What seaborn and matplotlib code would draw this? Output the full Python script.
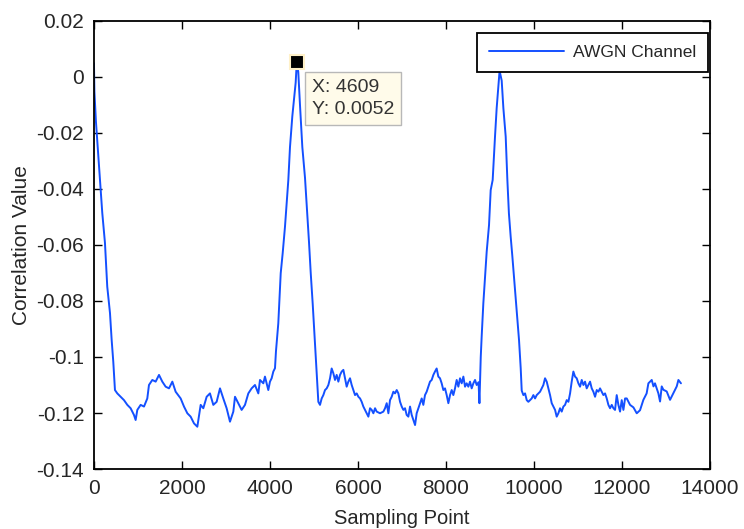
import numpy as np
import pandas as pd
import matplotlib
matplotlib.use('Agg')
import matplotlib.pyplot as plt
import seaborn as sns
from matplotlib.ticker import FuncFormatter, MultipleLocator

# Values, segment by segment
peak1_x = [0, 10, 45, 100, 136, 189, 250, 302, 364, 402, 439, 477]
peak1_y = [0.0049, -0.0052, -0.0160, -0.0285, -0.0370, -0.0486, -0.0593, -0.0749, -0.0843, -0.0939, -0.1017, -0.1118]

base1_x = [530, 606, 682, 758, 833, 909, 947, 985, 1061, 1137, 1212, 1250, 1326, 1402, 1478, 1553,
           1629, 1705, 1781, 1856, 1970, 2046, 2122, 2197, 2273, 2349, 2425, 2485, 2561, 2636, 2712,
           2788, 2864, 2939, 3015, 3091, 3167, 3205, 3280, 3356, 3432, 3508, 3583, 3659, 3735, 3773,
           3849, 3886, 3962, 4000, 4038, 4076]
base1_y = [-0.1130, -0.1142, -0.1154, -0.1171, -0.1183, -0.1207, -0.1225, -0.1189, -0.1171, -0.1177,
           -0.1148, -0.1100, -0.1082, -0.1088, -0.1064, -0.1088, -0.1106, -0.1112, -0.1088, -0.1124,
           -0.1148, -0.1177, -0.1201, -0.1213, -0.1237, -0.1249, -0.1171, -0.1183, -0.1142, -0.1130,
           -0.1171, -0.1160, -0.1112, -0.1148, -0.1183, -0.1231, -0.1195, -0.1142, -0.1165, -0.1189,
           -0.1171, -0.1130, -0.1112, -0.1100, -0.1130, -0.1082, -0.1094, -0.1070, -0.1118, -0.1088,
           -0.1076, -0.1052]

peak2_x = [4114, 4136, 4189, 4244, 4289, 4341, 4380, 4417, 4455, 4508, 4546, 4584, 4609, 4643, 4682,
           4735, 4796, 4835, 4887, 4926, 4971, 5008, 5040, 5062, 5099]
peak2_y = [-0.1040, -0.0980, -0.0880, -0.0701, -0.0629, -0.0535, -0.0450, -0.0368, -0.0250, -0.0140,
           -0.0080, -0.0020, 0.0052, 0.0018, -0.0100, -0.0250, -0.0360, -0.0460, -0.0590, -0.0700,
           -0.0810, -0.0910, -0.0990, -0.1050, -0.1160]

base2_x = [5137, 5175, 5213, 5251, 5289, 5327, 5365, 5402, 5440, 5478, 5516, 5554, 5592, 5630, 5668,
           5706, 5743, 5781, 5819, 5857, 5895, 5933, 5971, 6009, 6047, 6084, 6122, 6160, 6198, 6236,
           6274, 6312, 6350, 6388, 6425, 6501, 6577, 6615, 6653, 6691, 6728, 6766, 6804, 6842, 6880,
           6918, 6956, 6994, 7032, 7069, 7107, 7145, 7183, 7221, 7259, 7297, 7334, 7372, 7410, 7448,
           7485, 7523, 7561, 7599, 7637, 7675, 7713, 7750, 7788, 7826, 7864, 7902, 7940, 7978, 8016,
           8054, 8092, 8130, 8167, 8205, 8243, 8281, 8319, 8357, 8395, 8433, 8470, 8508, 8546, 8584,
           8622, 8660, 8698, 8740, 8760, 8790]
base2_y = [-0.1171, -0.1148, -0.1136, -0.1118, -0.1112, -0.1100, -0.1076, -0.1041, -0.1058, -0.1082,
           -0.1064, -0.1088, -0.1064, -0.1052, -0.1046, -0.1076, -0.1106, -0.1088, -0.1076, -0.1100,
           -0.1118, -0.1136, -0.1130, -0.1142, -0.1148, -0.1160, -0.1177, -0.1189, -0.1201, -0.1213,
           -0.1183, -0.1189, -0.1201, -0.1183, -0.1195, -0.1201, -0.1195, -0.1183, -0.1165, -0.1201,
           -0.1154, -0.1142, -0.1124, -0.1130, -0.1118, -0.1130, -0.1160, -0.1177, -0.1189, -0.1183,
           -0.1207, -0.1213, -0.1177, -0.1207, -0.1225, -0.1243, -0.1201, -0.1183, -0.1165, -0.1148,
           -0.1171, -0.1136, -0.1124, -0.1106, -0.1088, -0.1082, -0.1064, -0.1052, -0.1041, -0.1070,
           -0.1076, -0.1094, -0.1118, -0.1112, -0.1136, -0.1165, -0.1136, -0.1118, -0.1136, -0.1112,
           -0.1082, -0.1106, -0.1076, -0.1094, -0.1070, -0.1106, -0.1094, -0.1106, -0.1088, -0.1112,
           -0.1094, -0.1082, -0.1100, -0.1090, -0.1165, -0.1000]

peak3_x = [8811, 8849, 8887, 8925, 8978, 9016, 9061, 9114, 9152, 9200, 9218, 9266, 9304, 9357, 9395,
           9430, 9470, 9508, 9554, 9607, 9660, 9698, 9721]
peak3_y = [-0.0927, -0.0808, -0.0713, -0.0624, -0.0529, -0.0404, -0.0368, -0.0213, -0.0111, -0.0013,
           0.0022, -0.0013, -0.0111, -0.0213, -0.0368, -0.0487, -0.0570, -0.0640, -0.0730, -0.0830,
           -0.0940, -0.1040, -0.1120]

base3_x = [9759, 9797, 9835, 9872, 9910, 9948, 9986, 10024, 10062, 10100, 10138, 10176, 10213, 10251,
           10289, 10327, 10365, 10403, 10441, 10479, 10516, 10554, 10592, 10630, 10668, 10706, 10744,
           10782, 10820, 10857, 10895, 10933, 10971, 11009, 11047, 11085, 11123, 11160, 11198, 11236,
           11274, 11312, 11350, 11388, 11426, 11464, 11501, 11539, 11577, 11615, 11653, 11691, 11729,
           11767, 11805, 11842, 11880, 11918, 11956, 11994, 12032, 12070, 12108, 12183, 12260, 12335,
           12410, 12486, 12560, 12600, 12676, 12715, 12750, 12827, 12865, 12903, 12940, 13016, 13092,
           13130, 13168, 13244, 13282, 13340]
base3_y = [-0.1136, -0.1130, -0.1154, -0.1160, -0.1154, -0.1148, -0.1136, -0.1148, -0.1136, -0.1130,
           -0.1124, -0.1112, -0.1100, -0.1076, -0.1088, -0.1112, -0.1136, -0.1165, -0.1177, -0.1189,
           -0.1213, -0.1201, -0.1183, -0.1195, -0.1177, -0.1171, -0.1154, -0.1160, -0.1130, -0.1088,
           -0.1052, -0.1070, -0.1076, -0.1094, -0.1106, -0.1082, -0.1100, -0.1088, -0.1112, -0.1100,
           -0.1088, -0.1112, -0.1124, -0.1142, -0.1118, -0.1124, -0.1112, -0.1124, -0.1136, -0.1130,
           -0.1148, -0.1171, -0.1183, -0.1171, -0.1183, -0.1189, -0.1136, -0.1171, -0.1195, -0.1154,
           -0.1189, -0.1148, -0.1148, -0.1171, -0.1180, -0.1201, -0.1190, -0.1153, -0.1130, -0.1094,
           -0.1082, -0.1105, -0.1094, -0.1130, -0.1159, -0.1105, -0.1117, -0.1123, -0.1153, -0.1141,
           -0.1129, -0.1105, -0.1082, -0.1094]

datatip_x = 4609
datatip_y = 0.0052

df = pd.DataFrame({
    'Sampling Point': peak1_x + base1_x + peak2_x + base2_x + peak3_x + base3_x,
    'Correlation Value': peak1_y + base1_y + peak2_y + base2_y + peak3_y + base3_y,
})

sns.set_theme(style='white')
plt.rcParams['font.family'] = ['Liberation Sans', 'DejaVu Sans']
plt.rcParams['axes.unicode_minus'] = False

fig = plt.figure(figsize=(7.44, 5.29), dpi=100)
ax = fig.add_axes([0.1263, 0.1134, 0.828, 0.847])

line_color = '#1450ff'
sns.lineplot(data=df, x='Sampling Point', y='Correlation Value', estimator=None, sort=False,
             color=line_color, linewidth=1.4, label='AWGN Channel', ax=ax)

# data tip
ax.plot(datatip_x, datatip_y, 's', color='black', markersize=9.5,
        markeredgecolor='#fff1c8', markeredgewidth=1.5, zorder=5)
ax.text(4948, -0.0008, f'X: {datatip_x}\nY: {datatip_y}', ha='left', va='top',
        fontsize=14, color='#333333', linespacing=1.35, zorder=6,
        bbox=dict(boxstyle='square,pad=0.35', facecolor='#fffbea', edgecolor='#b8b8b8', linewidth=1))

ax.set_xlim(0, 14000)
ax.set_ylim(-0.14, 0.02)
ax.xaxis.set_major_locator(MultipleLocator(2000))
ax.yaxis.set_major_locator(MultipleLocator(0.02))
ax.yaxis.set_major_formatter(FuncFormatter(lambda v, p: '%g' % round(v, 4)))
ax.xaxis.set_major_formatter(FuncFormatter(lambda v, p: '%g' % v))

ax.tick_params(direction='in', length=6, width=1, colors='black', labelcolor='#262626',
               labelsize=15, pad=7, top=True, right=True, bottom=True, left=True)
for s in ax.spines.values():
    s.set_color('black')
    s.set_linewidth(1.3)

ax.set_xlabel('Sampling Point', fontsize=14.5, color='#262626', labelpad=8)
ax.set_ylabel('Correlation Value', fontsize=15, color='#262626', labelpad=4)

leg = ax.legend(loc='upper right', bbox_to_anchor=(0.9968, 0.9732), borderaxespad=0,
                fontsize=12.5, handlelength=4.3, handletextpad=0.5, borderpad=0.7,
                fancybox=False, framealpha=1, edgecolor='black')
leg.get_frame().set_linewidth(1.3)
for t in leg.get_texts():
    t.set_color('#262626')

fig.savefig('out.png', dpi=100, facecolor='white')
